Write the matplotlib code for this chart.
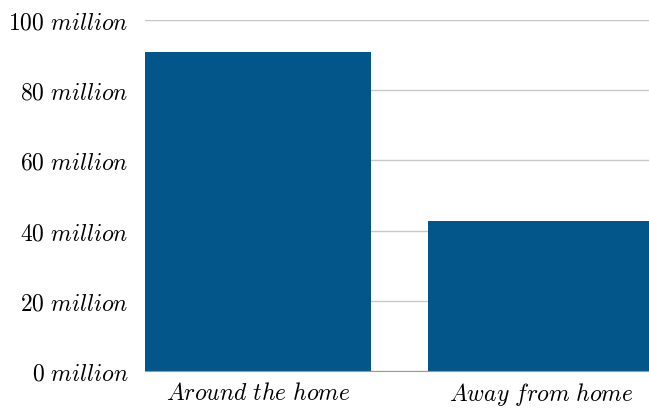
import matplotlib

matplotlib.use("Agg")
import matplotlib.pyplot as plt

plt.rcParams["mathtext.fontset"] = "cm"

categories = ["Around the home", "Away from home"]
values_million = [90.9, 42.7]
ytick_values = [0, 20, 40, 60, 80, 100]


def _it(text: str) -> str:
    return r"$\mathit{" + text.replace(" ", r"\ ") + "}$"


fig = plt.figure(figsize=(6.49, 4.08), dpi=100)
ax = fig.add_axes([0.2234, 0.0907, 0.7766, 0.8603])

x = list(range(len(categories)))
ax.bar(x, values_million, width=0.8, color="#03568a", zorder=2)

ax.set_ylim(0, 100)
ax.set_xlim(-0.4, 1.382)
ax.set_yticks(ytick_values)
ax.set_yticklabels([_it(f"{v} million") for v in ytick_values], fontsize=17)
ax.set_xticks(x)
ax.set_xticklabels([_it(c) for c in categories], fontsize=17)
ax.tick_params(axis="y", length=0, pad=12)
ax.tick_params(axis="x", length=0, pad=7)

ax.grid(True, axis="y", color="#c8c8c8", linewidth=1, zorder=1)
for side in ["top", "right", "left"]:
    ax.spines[side].set_visible(False)
ax.spines["bottom"].set_color("#999999")
ax.spines["bottom"].set_zorder(3)

fig.savefig("out.png", dpi=100)
